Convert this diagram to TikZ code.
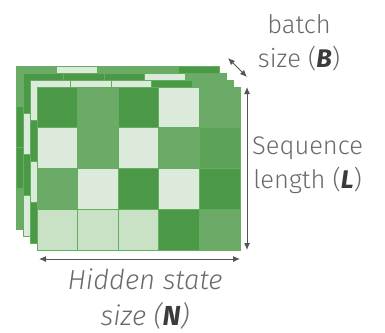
\documentclass[tikz,border=0pt]{standalone}
\usepackage{fontspec}
\setmainfont{Fira Sans}[UprightFont=* Light, ItalicFont=* Light Italic, BoldFont=* SemiBold, BoldItalicFont=* Bold Italic]
\usepackage{xcolor}
\usetikzlibrary{arrows.meta,positioning}

\definecolor{dk}{HTML}{4B9946}
\definecolor{md}{HTML}{6BAB67}
\definecolor{mm}{HTML}{5DA259}
\definecolor{pl}{HTML}{DCEADB}
\definecolor{pk}{HTML}{C9E1C5}
\definecolor{edge}{HTML}{62B05D}
\definecolor{ink}{HTML}{555555}
\definecolor{txt}{HTML}{6A6A6A}

\tikzset{
    cell/.style={draw=edge, line width=0.7pt},
    dim/.style={draw=ink, line width=1pt, {Latex[length=7pt,width=6pt]}-{Latex[length=7pt,width=6pt]}},
    lbl/.style={text=txt, font=\fontsize{25.5}{34}\selectfont, align=center}
}

\newcommand{\cw}{40.6}
\newcommand{\ch}{40.75}

\begin{document}
\begin{tikzpicture}[x=1pt,y=-1pt]
    \useasboundingbox (0,0) rectangle (385,332);

    % Stack of matrices, back to front
    \foreach \lx/\ly/\rows in {
        16/66/{{md,pl,md,md,dk},{dk,md,pl,dk,md},{dk,pl,md,dk,pl},{md,pk,dk,pk,md}},
        23/73/{{dk,dk,dk,pl,md},{pl,md,dk,md,pl},{dk,pl,md,pl,dk},{pl,dk,pk,md,dk}},
        30/80/{{pl,pl,pl,dk,md},{dk,md,pl,dk,md},{pl,dk,md,pl,md},{dk,pk,dk,pk,md}},
        37/87/{{dk,md,dk,pl,md},{pl,md,pl,md,mm},{md,pl,dk,pl,dk},{pk,pk,pk,dk,md}}} {
        \begin{scope}[shift={(\lx,\ly)}]
            \fill[dk] (0,0) rectangle (5*\cw,4*\ch);
            \foreach \colors [count=\r from 0] in \rows {
                \foreach \c [count=\k from 0] in \colors {
                    \draw[cell, fill=\c] (\k*\cw,\r*\ch) rectangle ++(\cw,\ch);
                }
            }
            \draw[edge, line width=1pt] (0,0) rectangle (5*\cw,4*\ch);
        \end{scope}
    }

    % Corners of the stack
    \coordinate (backtr) at (228,58);
    \coordinate (fronttr) at (247,77);
    \coordinate (seqtop) at (247,87);
    \coordinate (seqbot) at (247,250);
    \coordinate (hidl) at (39,259);
    \coordinate (hidr) at (240,259);

    % Dimension arrows
    \draw[dim] (backtr) -- (fronttr);
    \draw[dim] (seqtop) -- (seqbot);
    \draw[dim] (hidl) -- (hidr);

    % Labels
    \node[lbl, anchor=south] (batch) at (299,75) {batch\\size (\textcolor{ink!70!black}{\textbf{\textit{B}}})};
    \node[lbl, anchor=west, inner sep=2pt] (seq) at (250,165) {Sequence\\length (\textcolor{ink!70!black}{\textbf{\textit{L}}})};
    \node[lbl, anchor=north, font=\fontsize{27.5}{36}\selectfont\itshape] (hid) at (145,265) {Hidden state\\size (\textcolor{ink!70!black}{\textbf{\textit{N}}})};
\end{tikzpicture}
\end{document}
